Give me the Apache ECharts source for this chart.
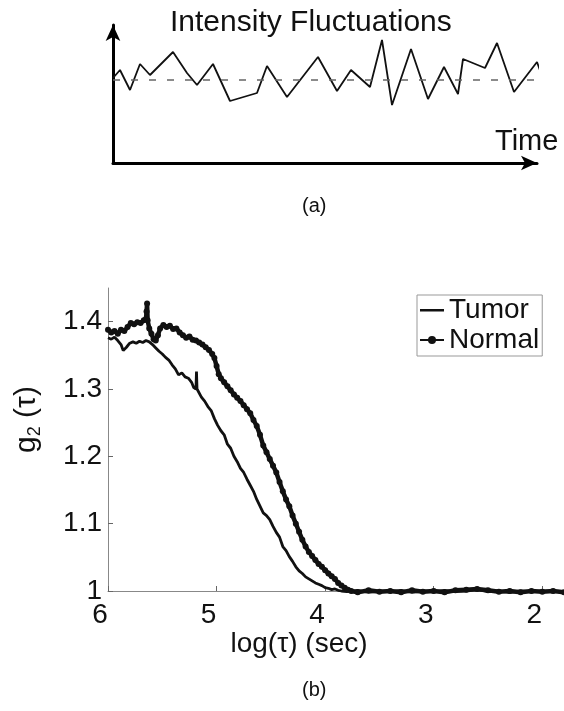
<!DOCTYPE html>
<html>
<head>
<meta charset="utf-8">
<script src="https://cdn.jsdelivr.net/npm/echarts@6/dist/echarts.min.js"></script>
<style>
  html, body { margin: 0; padding: 0; background: #fff; }
  #chart { width: 564px; height: 711px; }
</style>
</head>
<body>
<div id="chart"></div>
<script>
// panel (a): schematic intensity trace (arbitrary units)
const fluctTime = [0, 7, 17, 27, 37, 60, 74, 84, 100, 117, 144, 154, 174, 205, 224, 238, 257, 269, 279, 298, 315, 331, 345, 350, 372, 384, 401, 424, 433]
const fluctIntensity = [85, 93, 73, 99, 88, 111, 90, 78, 99, 62, 70, 97, 66, 106, 72, 93, 76, 123, 58, 114, 64, 96, 69, 104, 95, 120, 71, 101, 76]
const meanIntensity = 83
const meanSpan = [0, 447]

// panel (b): g2(tau) vs log(tau)
const tumorCurve = [
  [6.00, 1.376], [5.97, 1.374], [5.94, 1.377], [5.91, 1.372], [5.88, 1.366], [5.86, 1.357],
  [5.83, 1.362], [5.80, 1.368], [5.77, 1.370], [5.74, 1.368], [5.71, 1.371], [5.68, 1.369],
  [5.65, 1.372], [5.62, 1.370], [5.59, 1.366], [5.56, 1.361], [5.53, 1.356], [5.50, 1.352],
  [5.47, 1.347], [5.44, 1.343], [5.41, 1.336], [5.38, 1.330], [5.35, 1.321], [5.32, 1.324],
  [5.29, 1.318], [5.26, 1.316], [5.23, 1.310], [5.21, 1.302], [5.19, 1.300], [5.185, 1.326],
  [5.18, 1.300], [5.17, 1.298], [5.14, 1.288], [5.11, 1.282], [5.08, 1.274], [5.05, 1.268],
  [5.02, 1.256], [4.99, 1.246], [4.96, 1.238], [4.93, 1.232], [4.90, 1.218], [4.87, 1.212],
  [4.84, 1.200], [4.81, 1.192], [4.78, 1.182], [4.75, 1.176], [4.72, 1.166], [4.69, 1.157],
  [4.66, 1.148], [4.63, 1.136], [4.60, 1.126], [4.57, 1.116], [4.54, 1.112], [4.51, 1.106],
  [4.48, 1.096], [4.45, 1.087], [4.42, 1.080], [4.39, 1.066], [4.36, 1.060], [4.33, 1.051],
  [4.30, 1.044], [4.27, 1.036], [4.24, 1.030], [4.21, 1.026], [4.18, 1.021], [4.15, 1.018],
  [4.12, 1.015], [4.09, 1.012], [4.06, 1.010], [4.03, 1.008], [4.00, 1.005], [3.97, 1.004],
  [3.94, 1.002], [3.91, 1.003], [3.88, 1.001], [3.85, 1.000], [3.80, 0.999], [3.70, 1.001],
  [3.60, 0.998], [3.50, 1.000], [3.40, 0.999], [3.30, 1.001], [3.20, 0.998], [3.10, 1.000],
  [3.00, 0.999], [2.90, 1.001], [2.80, 0.999], [2.70, 1.000], [2.60, 1.002], [2.50, 0.999],
  [2.40, 1.000], [2.30, 0.998], [2.20, 1.000], [2.10, 0.999], [2.00, 1.000], [1.90, 0.999],
  [1.80, 0.999]
]
const normalCurve = [
  [6.00, 1.388], [5.97, 1.384], [5.94, 1.386], [5.91, 1.382], [5.88, 1.388], [5.85, 1.386],
  [5.82, 1.392], [5.79, 1.398], [5.76, 1.396], [5.73, 1.399], [5.70, 1.398], [5.67, 1.402],
  [5.65, 1.404], [5.645, 1.415], [5.64, 1.427], [5.635, 1.402], [5.62, 1.390], [5.60, 1.382],
  [5.58, 1.374], [5.56, 1.372], [5.54, 1.380], [5.52, 1.390], [5.49, 1.395], [5.46, 1.392],
  [5.43, 1.394], [5.40, 1.389], [5.37, 1.390], [5.34, 1.384], [5.31, 1.380], [5.28, 1.376],
  [5.25, 1.378], [5.22, 1.373], [5.19, 1.372], [5.16, 1.369], [5.13, 1.366], [5.10, 1.362],
  [5.07, 1.358], [5.04, 1.352], [5.02, 1.346], [5.00, 1.334], [4.98, 1.322], [4.96, 1.316],
  [4.93, 1.310], [4.90, 1.304], [4.87, 1.298], [4.84, 1.292], [4.81, 1.287], [4.78, 1.282],
  [4.75, 1.276], [4.72, 1.270], [4.69, 1.264], [4.66, 1.254], [4.63, 1.245], [4.60, 1.232],
  [4.57, 1.216], [4.54, 1.206], [4.51, 1.196], [4.48, 1.186], [4.45, 1.176], [4.42, 1.162],
  [4.39, 1.148], [4.36, 1.136], [4.33, 1.126], [4.30, 1.112], [4.27, 1.100], [4.24, 1.088],
  [4.21, 1.076], [4.18, 1.066], [4.15, 1.058], [4.12, 1.052], [4.09, 1.046], [4.06, 1.040],
  [4.03, 1.036], [4.00, 1.031], [3.97, 1.026], [3.94, 1.022], [3.91, 1.018], [3.88, 1.012],
  [3.85, 1.008], [3.82, 1.005], [3.79, 1.002], [3.76, 1.000], [3.70, 0.998], [3.60, 1.001],
  [3.50, 0.999], [3.40, 1.000], [3.30, 0.998], [3.20, 1.001], [3.10, 0.999], [3.00, 1.000],
  [2.90, 0.998], [2.80, 1.001], [2.70, 1.002], [2.60, 1.003], [2.50, 1.001], [2.40, 0.999],
  [2.30, 1.000], [2.20, 0.998], [2.10, 1.000], [2.00, 0.999], [1.90, 1.000], [1.80, 0.998]
]
const xTicks = [2, 3, 4, 5, 6]
const yTicks = [1, 1.1, 1.2, 1.3, 1.4]

const INK = '#111'
const FONT = 'Liberation Sans'
// plain dash for the Tumor legend entry (corner specks keep the 24x10 box)
const DASH_ICON = 'path://M0,0L0.05,0L0,0.05Z M0,4L24,4L24,6.5L0,6.5Z M24,10L23.95,10L24,9.95Z'

const chart = echarts.init(document.getElementById('chart'), null, { renderer: 'canvas' })

const schematicAxis = {
  type: 'value',
  gridIndex: 0,
  axisLine: { show: true, lineStyle: { color: '#000', width: 3 }, symbol: ['none', 'arrow'], symbolSize: [11, 16] },
  axisTick: { show: false },
  axisLabel: { show: false },
  splitLine: { show: false },
}

const option = {
  animation: false,
  backgroundColor: '#fff',
  textStyle: { fontFamily: FONT, color: INK },
  title: [
    { text: 'Intensity Fluctuations', left: 170, top: 8, padding: 0, textStyle: { fontSize: 30, fontWeight: 'normal', color: INK, fontFamily: FONT } },
    { text: 'Time', left: 495, top: 127, padding: 0, textStyle: { fontSize: 29, fontWeight: 'normal', color: INK, fontFamily: FONT } },
    { text: '(a)', left: 302, top: 196, padding: 0, textStyle: { fontSize: 20, fontWeight: 'normal', color: INK, fontFamily: FONT } },
    { text: '(b)', left: 302, top: 680, padding: 0, textStyle: { fontSize: 20, fontWeight: 'normal', color: INK, fontFamily: FONT } },
  ],
  legend: {
    data: [{ name: 'Tumor', icon: DASH_ICON }, { name: 'Normal' }],
    orient: 'vertical',
    left: 417, top: 295,
    itemWidth: 24, itemHeight: 10, itemGap: 2,
    padding: [1, 3, 2, 2],
    borderColor: '#999', borderWidth: 1,
    textStyle: { fontSize: 28, color: INK, fontFamily: FONT },
  },
  grid: [
    { left: 113, top: 25, width: 424, height: 138 },
    { left: 108, right: 0, top: 288, bottom: 120 },
  ],
  xAxis: [
    { ...schematicAxis, min: 0, max: 424 },
    {
      type: 'value', gridIndex: 1, inverse: true, min: 1.8, max: 6,
      name: 'log(τ) (sec)', nameLocation: 'middle', nameGap: 32,
      nameTextStyle: { fontSize: 28, color: INK, fontFamily: FONT, padding: [0, 74, 0, 0] },
      axisLine: { show: true, lineStyle: { color: '#888', width: 1 } },
      axisTick: { show: true, inside: true, length: 5, lineStyle: { color: '#666' }, customValues: xTicks },
      axisLabel: { customValues: xTicks, fontSize: 28, color: INK, margin: 10, padding: [0, 16, 0, 0] },
      splitLine: { show: false },
    },
  ],
  yAxis: [
    { ...schematicAxis, min: 0, max: 138 },
    {
      type: 'value', gridIndex: 1, min: 1, max: 1.45,
      name: '{g|g}{s|2}{g| (τ)}', nameLocation: 'middle', nameRotate: 90, nameGap: 64,
      nameTextStyle: {
        padding: [0, 0, 0, 40],
        rich: {
          g: { fontSize: 30, color: INK, fontFamily: FONT },
          s: { fontSize: 18, color: INK, fontFamily: FONT, verticalAlign: 'top', padding: [16, 0, 0, 0] },
        },
      },
      axisLine: { show: true, lineStyle: { color: '#888', width: 1 } },
      axisTick: { show: true, inside: true, length: 5, lineStyle: { color: '#666' }, customValues: yTicks },
      axisLabel: { customValues: yTicks, fontSize: 28, color: INK, margin: 6, formatter: v => String(+v.toFixed(1)) },
      splitLine: { show: false },
    },
  ],
  series: [
    {
      type: 'line', xAxisIndex: 0, yAxisIndex: 0, silent: true, clip: false,
      data: fluctTime.map((t, i) => [t, fluctIntensity[i]]),
      symbol: 'none', lineStyle: { color: INK, width: 1.8 },
    },
    {
      type: 'line', xAxisIndex: 0, yAxisIndex: 0, silent: true, clip: false,
      data: meanSpan.map(t => [t, meanIntensity]),
      symbol: 'none', lineStyle: { color: '#666', width: 1.5, type: [7, 11] },
    },
    {
      name: 'Tumor', type: 'line', xAxisIndex: 1, yAxisIndex: 1, clip: false,
      data: tumorCurve, symbol: 'none',
      itemStyle: { color: INK }, lineStyle: { color: INK, width: 2.8 },
    },
    {
      name: 'Normal', type: 'line', xAxisIndex: 1, yAxisIndex: 1, clip: false,
      data: normalCurve, symbol: 'circle', symbolSize: 6, showSymbol: true,
      itemStyle: { color: INK }, lineStyle: { color: INK, width: 4.5 },
    },
  ],
}

chart.setOption(option)
</script>
</body>
</html>
